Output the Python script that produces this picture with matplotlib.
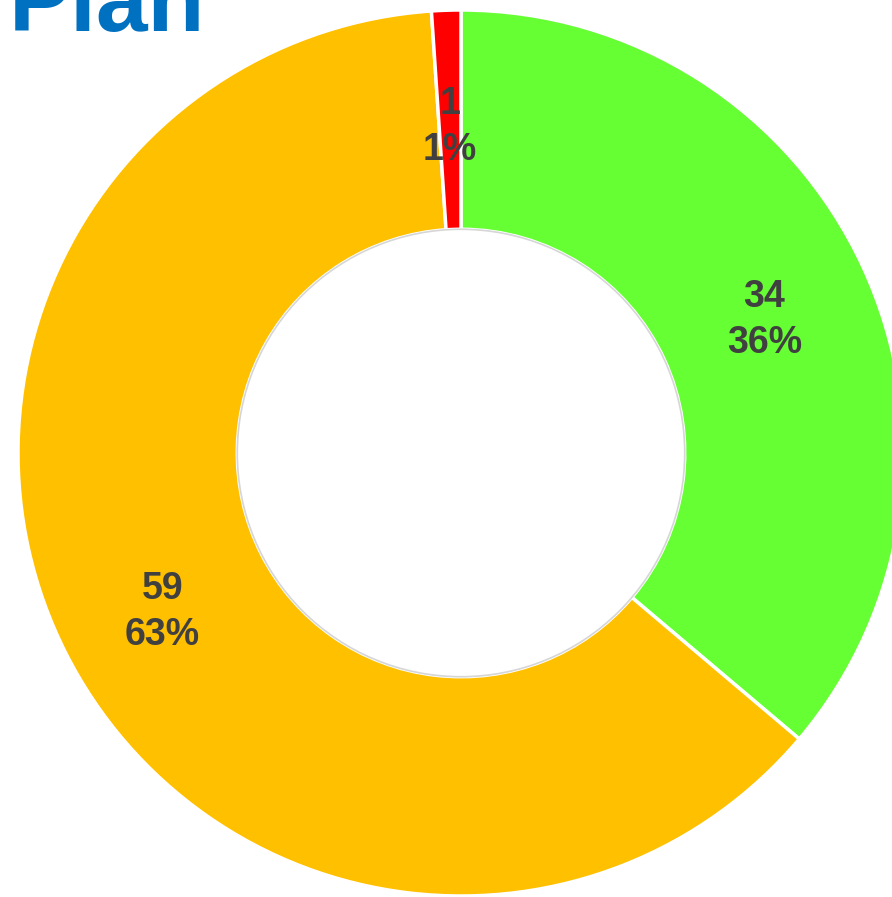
import matplotlib.pyplot as plt
from matplotlib.patches import Circle

# datos del gráfico
categorias = ["Completado", "En progreso", "Atrasado"]
valores = [34, 59, 1]
colores = ["#66FF33", "#FFC000", "#FF0000"]
titulo = "Plan"

W, H = 892, 897
fig = plt.figure(figsize=(W / 100, H / 100), dpi=100)

# centro del donut en (461, 453) px, radio 443 px
cx, cy, r = 461, 453, 443
ax = fig.add_axes([(cx - r) / W, (H - cy - r) / H, 2 * r / W, 2 * r / H])

total = sum(valores)

def etiqueta(pct):
    v = int(round(pct * total / 100))
    return "%d\n%d%%" % (v, round(pct))

wedges, textos, autotextos = ax.pie(
    valores, colors=colores, startangle=90, counterclock=False,
    radius=1, autopct=etiqueta, pctdistance=0.755,
    wedgeprops=dict(width=0.495, edgecolor="white", linewidth=2.5),
    textprops=dict(color="#404040", fontsize=27, fontweight="bold",
                   family="Liberation Sans"))
for t in autotextos:
    t.set_linespacing(1.35)
    x, y = t.get_position()
    t.set_position((x, y - 8 / r))  # un poco más abajo, como en el original

# contorno gris tenue
ax.add_patch(Circle((0, 0), 1.0, fill=False, edgecolor="#d6d6d6", linewidth=1.2, zorder=0))
ax.add_patch(Circle((0, 0), 0.505, fill=False, edgecolor="#d6d6d6", linewidth=1.2, zorder=5))

ax.set_xlim(-1, 1)
ax.set_ylim(-1, 1)
ax.set_aspect("equal")
ax.axis("off")

fig.text(205 / W, 1 - 31 / H, titulo, ha="right", va="baseline",
         color="#0070C0", fontsize=67, fontweight="bold", family="Liberation Sans")

fig.savefig("out.png", dpi=100)
